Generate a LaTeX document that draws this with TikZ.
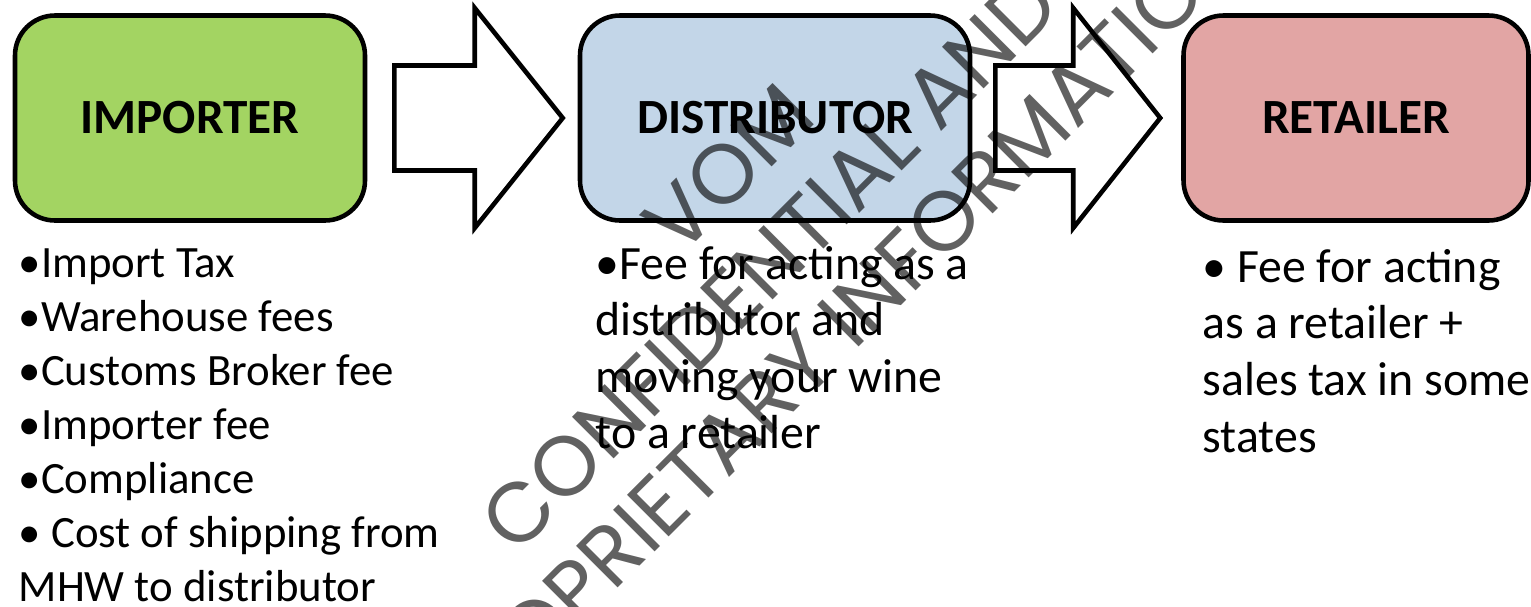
\documentclass[tikz,border=0pt]{standalone}
\usepackage{fontspec}
\setmainfont{Carlito}
\newfontfamily\wmfont{Poppins}
\usetikzlibrary{calc}

\definecolor{impgreen}{RGB}{163,212,98}
\definecolor{disblue}{RGB}{195,214,232}
\definecolor{retred}{RGB}{226,165,164}

\tikzset{
  stage/.style={draw=black, line width=1.3pt, rounded corners=0.4cm,
    minimum height=2.05cm, inner sep=0pt,
    font=\fontsize{14}{17}\selectfont\bfseries},
  cost/.style={anchor=base west, inner sep=0pt, font=\fontsize{13.6}{16}\selectfont},
  flow/.style={draw=black, line width=1.3pt, fill=white, line join=miter},
  wmark/.style={rotate=45, align=center, text=black, text opacity=0.62,
    inner sep=0pt, font=\wmfont\fontsize{24}{27}\selectfont},
}

\begin{document}
\begin{tikzpicture}
  \useasboundingbox (0,0) rectangle (15.31,-6.06);

  % the three stages
  \node[stage, fill=impgreen, minimum width=3.50cm] (imp) at (1.90,-1.18) {\raisebox{-0.035cm}{IMPORTER}};
  \node[stage, fill=disblue, minimum width=3.90cm] (dis) at (7.75,-1.18) {\raisebox{-0.035cm}{DISTRIBUTOR}};
  \node[stage, fill=retred, minimum width=3.45cm] (ret) at (13.56,-1.18) {\raisebox{-0.035cm}{RETAILER}};

  % block arrows between the stages
  \coordinate (a1) at ($(imp.east)+(0.27,0)$);
  \coordinate (a1tip) at ($(dis.west)+(-0.15,0)$);
  \draw[flow] ($(a1)+(0,0.525)$) -- ($(a1tip)+(-0.88,0.525)$)
    -- ($(a1tip)+(-0.88,1.10)$) -- (a1tip) -- ($(a1tip)+(-0.88,-1.10)$)
    -- ($(a1tip)+(-0.88,-0.525)$) -- ($(a1)+(0,-0.525)$) -- cycle;

  \coordinate (a2) at ($(dis.east)+(0.23,0)$);
  \coordinate (a2tip) at ($(ret.west)+(-0.21,0)$);
  \draw[flow] ($(a2)+(0,0.525)$) -- ($(a2tip)+(-0.87,0.525)$)
    -- ($(a2tip)+(-0.87,1.10)$) -- (a2tip) -- ($(a2tip)+(-0.87,-1.10)$)
    -- ($(a2tip)+(-0.87,-0.525)$) -- ($(a2)+(0,-0.525)$) -- cycle;

  % costs at each stage
  \foreach \txt [count=\i] in {•Import Tax, •Warehouse fees, •Customs Broker fee,
      •Importer fee, •Compliance, • Cost of shipping from, MHW to distributor}
    \node[cost, font=\fontsize{12.75}{15}\selectfont] (impcost-\i) at (0.18,{-2.77-0.54*(\i-1)}) {\txt};

  \foreach \txt [count=\i] in {•Fee for acting as a, distributor and,
      moving your wine, to a retailer}
    \node[cost] (discost-\i) at (5.95,{-2.79-0.565*(\i-1)}) {\txt};

  \foreach \txt [count=\i] in {• Fee for acting, as a retailer +,
      sales tax in some, states}
    \node[cost] (retcost-\i) at (12.02,{-2.82-0.567*(\i-1)}) {\txt};

  % watermark
  \node[wmark] (wm) at (7.69,-2.62) {\hspace*{0.75cm}VOM\\CONFIDENTIAL AND\\PROPRIETARY INFORMATION};
\end{tikzpicture}
\end{document}
